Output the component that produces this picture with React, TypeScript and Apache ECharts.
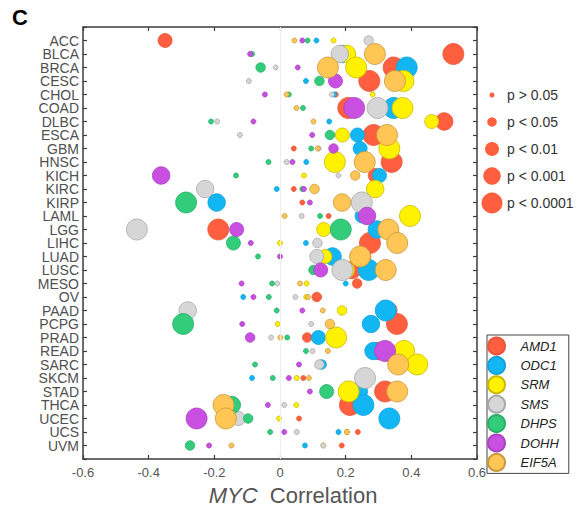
import React, { useEffect, useRef } from 'react';
import * as echarts from 'echarts';

const CATS = ['ACC', 'BLCA', 'BRCA', 'CESC', 'CHOL', 'COAD', 'DLBC', 'ESCA', 'GBM', 'HNSC', 'KICH', 'KIRC', 'KIRP', 'LAML', 'LGG', 'LIHC', 'LUAD', 'LUSC', 'MESO', 'OV', 'PAAD', 'PCPG', 'PRAD', 'READ', 'SARC', 'SKCM', 'STAD', 'THCA', 'UCEC', 'UCS', 'UVM'];

const GENES = ['AMD1', 'ODC1', 'SRM', 'SMS', 'DHPS', 'DOHH', 'EIF5A'];

// correlation values (r) and p-value level (0: p>0.05 ... 4: p<0.0001)
const AMD1_R = [-0.35, 0.528, 0.346, 0.272, 0.17, 0.208, 0.5, 0.285, 0.042, 0.34, 0.29, 0.042, 0.068, 0.148, -0.188, 0.274, 0.25, 0.22, 0.235, 0.112, 0.33, 0.356, 0.083, 0.3, 0.36, 0.071, 0.32, 0.213, 0.058, 0.237, 0.188];
const AMD1_P = [2, 4, 4, 4, 0, 4, 3, 4, 0, 4, 2, 0, 0, 0, 4, 4, 3, 3, 1, 1, 3, 4, 1, 3, 3, 0, 4, 4, 0, 0, 0];

const ODC1_R = [0.111, 0.19, 0.386, 0.079, 0.165, 0.346, 0.15, 0.236, 0.244, 0.08, 0.303, -0.01, -0.193, 0.25, 0.295, 0.079, 0.16, 0.27, 0.2, -0.112, 0.322, 0.277, 0.117, 0.285, 0.127, -0.085, 0.24, 0.254, 0.333, 0.178, 0.076];
const ODC1_P = [0, 3, 4, 0, 0, 4, 0, 2, 2, 0, 2, 0, 3, 2, 3, 0, 3, 4, 0, 0, 4, 3, 2, 3, 1, 0, 3, 4, 4, 0, 0];

const SRM_R = [0.163, 0.204, 0.232, 0.376, 0.282, 0.373, 0.462, 0.19, 0.333, 0.167, 0.073, 0.29, 0.25, 0.396, 0.133, 0.0, 0.137, 0.2, 0.081, 0.08, 0.189, -0.007, 0.171, 0.378, 0.418, 0.051, 0.209, 0.05, -0.003, 0.204, 0.132];
const SRM_P = [0, 3, 4, 4, 0, 4, 2, 2, 4, 4, 0, 3, 3, 4, 2, 0, 2, 3, 0, 0, 1, 0, 4, 4, 4, 0, 4, 0, 0, 0, 0];

const SMS_R = [0.27, 0.182, -0.013, -0.095, 0.158, 0.297, -0.191, -0.122, 0.118, 0.02, 0.178, -0.228, 0.249, 0.066, -0.436, 0.114, 0.112, 0.19, -0.008, 0.047, -0.281, 0.095, -0.027, 0.099, 0.12, 0.259, 0.357, 0.013, -0.127, 0.051, 0.132];
const SMS_P = [1, 3, 0, 0, 0, 4, 0, 0, 0, 0, 0, 3, 4, 0, 4, 1, 2, 4, 0, 0, 3, 0, 0, 0, 1, 4, 2, 0, 2, 0, 0];

const DHPS_R = [0.084, -0.085, -0.059, 0.12, 0.027, 0.07, -0.21, 0.152, 0.095, -0.035, -0.134, 0.068, -0.286, 0.122, 0.185, -0.142, -0.067, 0.102, -0.024, -0.034, -0.01, -0.295, 0.022, 0.079, -0.076, -0.022, 0.142, -0.147, -0.097, -0.03, -0.274];
const DHPS_P = [0, 0, 1, 1, 0, 0, 0, 1, 0, 0, 0, 0, 4, 0, 4, 2, 0, 1, 0, 0, 0, 4, 0, 0, 0, 0, 2, 3, 1, 0, 1];

const DOHH_R = [0.068, -0.091, 0.054, 0.169, -0.046, 0.226, -0.081, 0.098, 0.163, 0.038, -0.362, 0.073, 0.091, 0.265, -0.132, -0.089, 0.0, 0.124, -0.117, -0.081, 0.068, -0.115, -0.091, 0.32, 0.058, 0.027, 0.091, -0.037, -0.254, 0.013, -0.216];
const DOHH_P = [0, 0, 0, 2, 0, 4, 0, 0, 1, 0, 3, 0, 0, 3, 2, 0, 0, 2, 0, 0, 0, 0, 1, 4, 0, 0, 0, 0, 4, 0, 0];

const EIF5A_R = [0.044, 0.289, 0.146, 0.35, 0.02, 0.05, 0.102, 0.326, 0.115, 0.258, 0.229, 0.105, 0.189, 0.014, 0.33, 0.357, 0.244, 0.322, 0.061, 0.085, 0.13, 0.152, 0.001, 0.146, 0.36, 0.088, 0.357, -0.172, -0.165, 0.204, -0.148];
const EIF5A_P = [0, 4, 4, 4, 0, 0, 0, 4, 0, 4, 1, 1, 3, 0, 4, 4, 4, 4, 0, 0, 0, 1, 0, 0, 4, 0, 4, 4, 4, 0, 0];

const P_LABELS = ['p > 0.05', 'p < 0.05', 'p < 0.01', 'p < 0.001', 'p < 0.0001'];

const X_MIN = -0.6;
const X_MAX = 0.6;
const X_STEP = 0.2;

const GENE_R = [AMD1_R, ODC1_R, SRM_R, SMS_R, DHPS_R, DOHH_R, EIF5A_R];
const GENE_P = [AMD1_P, ODC1_P, SRM_P, SMS_P, DHPS_P, DOHH_P, EIF5A_P];

const COLORS = ['#FF5F3F', '#12B6F3', '#FFF200', '#D6D6D6', '#33CC7A', '#C84FE0', '#FFC655'];
const BORDERS = ['#E8553A', '#0FA3DA', '#C9B900', '#A8A8A8', '#2BAE68', '#A944C0', '#C8973C'];
const SIZES = [5, 9.5, 14, 17.5, 21];

const FONT = 'Liberation Sans, Arial, Helvetica, sans-serif';

export default function App() {
  const ref = useRef<HTMLDivElement>(null);
  useEffect(() => {
    document.body.style.margin = '0';
    const chart = echarts.init(ref.current!, null, { renderer: 'svg' });

    const axisLine = { show: true, onZero: false, lineStyle: { color: '#3c3c3c', width: 1.5 } };
    const axisTick = { show: true, inside: true, length: 4, lineStyle: { color: '#3c3c3c', width: 1.2 } };

    const series: any[] = [
      {
        type: 'scatter',
        name: 'zero',
        data: [],
        silent: true,
        markLine: {
          silent: true,
          symbol: 'none',
          label: { show: false },
          lineStyle: { color: '#eeeeee', width: 1, type: 'solid' },
          data: [{ xAxis: 0 }],
        },
      },
    ];
    GENES.forEach((g, gi) => {
      series.push({
        type: 'scatter',
        name: g,
        data: GENE_R[gi].map((r, i) => [r, i + 1, GENE_P[gi][i]]),
        symbolSize: (v: number[]) => SIZES[v[2]],
        itemStyle: { color: COLORS[gi], borderColor: BORDERS[gi], borderWidth: 0.8, opacity: 1 },
      });
    });

    const sizeLegend: any[] = [];
    P_LABELS.forEach((lab, i) => {
      const cy = 95 + 27 * i;
      sizeLegend.push({
        type: 'circle',
        shape: { cx: 492, cy, r: SIZES[i] / 2 },
        style: { fill: COLORS[0] },
      });
      sizeLegend.push({
        type: 'text',
        x: 507,
        y: cy,
        style: { text: lab, font: `14px ${FONT}`, fill: '#333', verticalAlign: 'middle' },
      });
    });

    const option: any = {
      animation: false,
      grid: { left: 83, right: 105, top: 27, bottom: 49, containLabel: false },
      xAxis: [
        {
          type: 'value',
          min: X_MIN,
          max: X_MAX,
          interval: X_STEP,
          position: 'bottom',
          axisLine,
          axisTick,
          axisLabel: {
            margin: 7,
            fontSize: 13,
            fontFamily: FONT,
            color: '#555',
            formatter: (v: number) => String(Math.round(v * 10) / 10),
          },
          splitLine: { show: false },
        },
        {
          type: 'value',
          min: X_MIN,
          max: X_MAX,
          interval: X_STEP,
          position: 'top',
          axisLine,
          axisTick,
          axisLabel: { show: false },
          splitLine: { show: false },
        },
      ],
      yAxis: [
        {
          type: 'value',
          min: 0,
          max: CATS.length + 1,
          interval: 1,
          inverse: true,
          position: 'left',
          axisLine,
          axisTick,
          axisLabel: {
            margin: 4,
            fontSize: 14,
            lineHeight: 13,
            fontFamily: FONT,
            color: '#505050',
            formatter: (v: number) => CATS[v - 1] ?? '',
          },
          splitLine: { show: false },
        },
        {
          type: 'value',
          min: 0,
          max: CATS.length + 1,
          interval: 1,
          inverse: true,
          position: 'right',
          axisLine,
          axisTick,
          axisLabel: { show: false },
          splitLine: { show: false },
        },
      ],
      legend: {
        data: GENES,
        orient: 'vertical',
        left: 487,
        top: 335,
        padding: [1.5, 10, 1.5, 0],
        itemWidth: 38,
        itemHeight: 17,
        itemGap: 0.4,
        icon: 'circle',
        borderColor: '#444',
        borderWidth: 1,
        textStyle: { fontSize: 13, fontStyle: 'italic', fontFamily: FONT, color: '#222' },
        selectedMode: false,
      },
      series,
      graphic: [
        {
          type: 'text',
          x: 12,
          y: 6,
          style: { text: 'C', font: `bold 22px ${FONT}`, fill: '#000' },
        },
        {
          type: 'text',
          x: 293,
          y: 495,
          style: {
            text: '{i|MYC}  Correlation',
            textAlign: 'center',
            verticalAlign: 'middle',
            font: `22px ${FONT}`,
            fill: '#555',
            rich: {
              i: { fontStyle: 'italic', fontSize: 22, fontFamily: FONT, fill: '#555' },
            },
          },
        },
        ...sizeLegend,
      ],
    };
    chart.setOption(option);
    return () => chart.dispose();
  }, []);
  return <div ref={ref} style={{ width: 582, height: 508 }} />;
}
